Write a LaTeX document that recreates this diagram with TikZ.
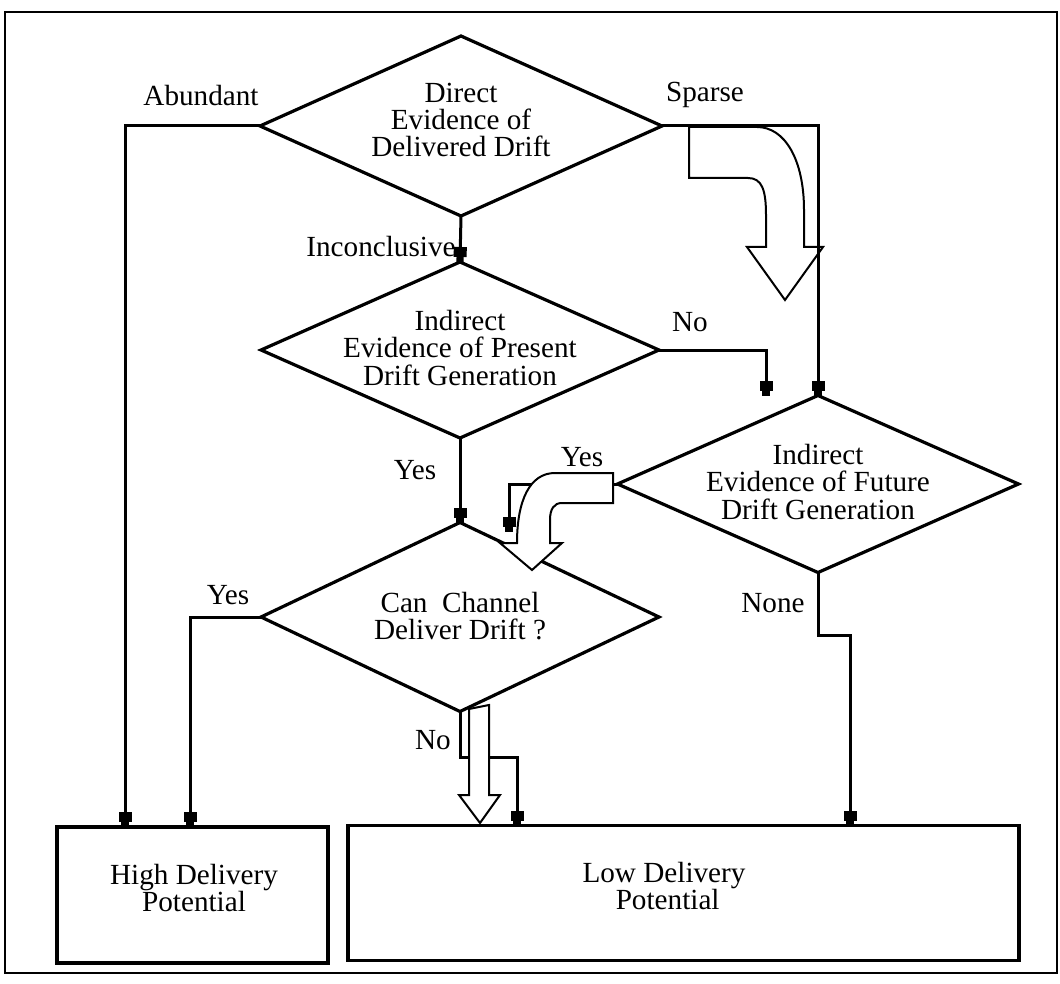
\documentclass[tikz,border=0pt]{standalone}
\usepackage{fontspec}
\setmainfont{Liberation Serif}
\usetikzlibrary{shapes.geometric,arrows.meta}
\begin{document}
\begin{tikzpicture}[x=0.5pt,y=-0.5pt,
  dia/.style={draw,shape=diamond,line width=1.6pt,inner sep=0pt,outer sep=0pt},
  outbox/.style={draw,rectangle,line width=1.8pt,inner sep=0pt,outer sep=0pt},
  txt/.style={align=center,font=\fontsize{14.6pt}{13.6pt}\selectfont,inner sep=0pt},
  lbl/.style={font=\fontsize{14.6pt}{13.6pt}\selectfont,inner sep=0pt},
  conn/.style={line width=1.5pt,-{Rectangle[length=5pt,width=6.5pt]Rectangle[length=2.5pt,width=3.6pt]}},
  hollow/.style={draw,fill=white,line width=1pt,line join=miter},
]
\useasboundingbox (0,0) rectangle (1060,984);
\draw[line width=1.1pt] (5,12) rectangle (1057,973);

% decisions
\node[dia,minimum width=201pt,minimum height=90pt] (d1) at (461,126) {};
\node[dia,minimum width=199pt,minimum height=88pt] (d2) at (460,350) {};
\node[dia,minimum width=200.5pt,minimum height=88.5pt] (d3) at (818,484) {};
\node[dia,minimum width=199pt,minimum height=94.5pt] (d4) at (460,617) {};
\node[txt] (t1) at (461,120) {Direct\\Evidence of\\Delivered Drift};
\node[txt] (t2) at (460,348) {Indirect\\Evidence of Present\\Drift Generation};
\node[txt] (t3) at (818,482) {Indirect\\Evidence of Future\\Drift Generation};
\node[txt] (t4) at (460,616) {Can\ \ Channel\\Deliver Drift ?};

% outcomes
\node[outbox,minimum width=135.5pt,minimum height=68pt] (high) at (192.5,895) {};
\node[outbox,minimum width=335.5pt,minimum height=67.5pt] (low) at (683.5,893) {};
\node[txt] (th) at (194,888) {High Delivery\\Potential};
\node[txt] (tl) at (664,886) {Low Delivery\\\ Potential};

% hollow arrow under the Sparse line
\draw[hollow] (689,127) -- (689,178) -- (748,178) .. controls (762,178) and (766,190) .. (766,215) -- (766,247) -- (747,247) -- (785,300) -- (823,247) -- (804,247) -- (804,210) .. controls (804,160) and (785,127) .. (757,127) -- cycle;

% connectors
\coordinate (noend) at (766,396);
\coordinate (yesend) at (509,532);
\draw[conn] (d1.west) -| (125,0 |- high.north);
\draw[conn] (d4.west) -| (190,0 |- high.north);
\draw[conn] (d1.east) -| (d3.north);
\draw[conn] (d1.south) -- (d2.north);
\draw[conn] (d2.east) -| (noend);
\draw[conn] (d2.south) -- (d4.north);
\draw[conn] (d3.west) -| (yesend);
\draw[conn] (d4.south) -- (460,757) -| (517,0 |- low.north);
\draw[conn] (d3.south) -- (818,635) -| (850,0 |- low.north);

% hollow arrows on top
\draw[hollow] (613,473) -- (613,503) -- (562,503) .. controls (554,503) and (550,509) .. (550,520) -- (550,543) -- (562,543) -- (532,570) -- (500,543) -- (517,543) .. controls (517,500) and (530,473) .. (555,473) -- cycle;
\draw[hollow] (469,709) -- (469,795) -- (459,795) -- (480,823) -- (500,795) -- (489,795) -- (489,705) -- cycle;

% labels
\node[lbl] (labund) at (201,96) {Abundant};
\node[lbl] (lsparse) at (705,95) {Sparse};
\node[lbl] (linc) at (381,247) {Inconclusive};
\node[lbl] (lno1) at (690,322) {No};
\node[lbl] (lyes1) at (415,470) {Yes};
\node[lbl] (lyes2) at (582,457) {Yes};
\node[lbl] (lyes3) at (228,595) {Yes};
\node[lbl] (lno2) at (433,740) {No};
\node[lbl] (lnone) at (773,603) {None};
\end{tikzpicture}
\end{document}
